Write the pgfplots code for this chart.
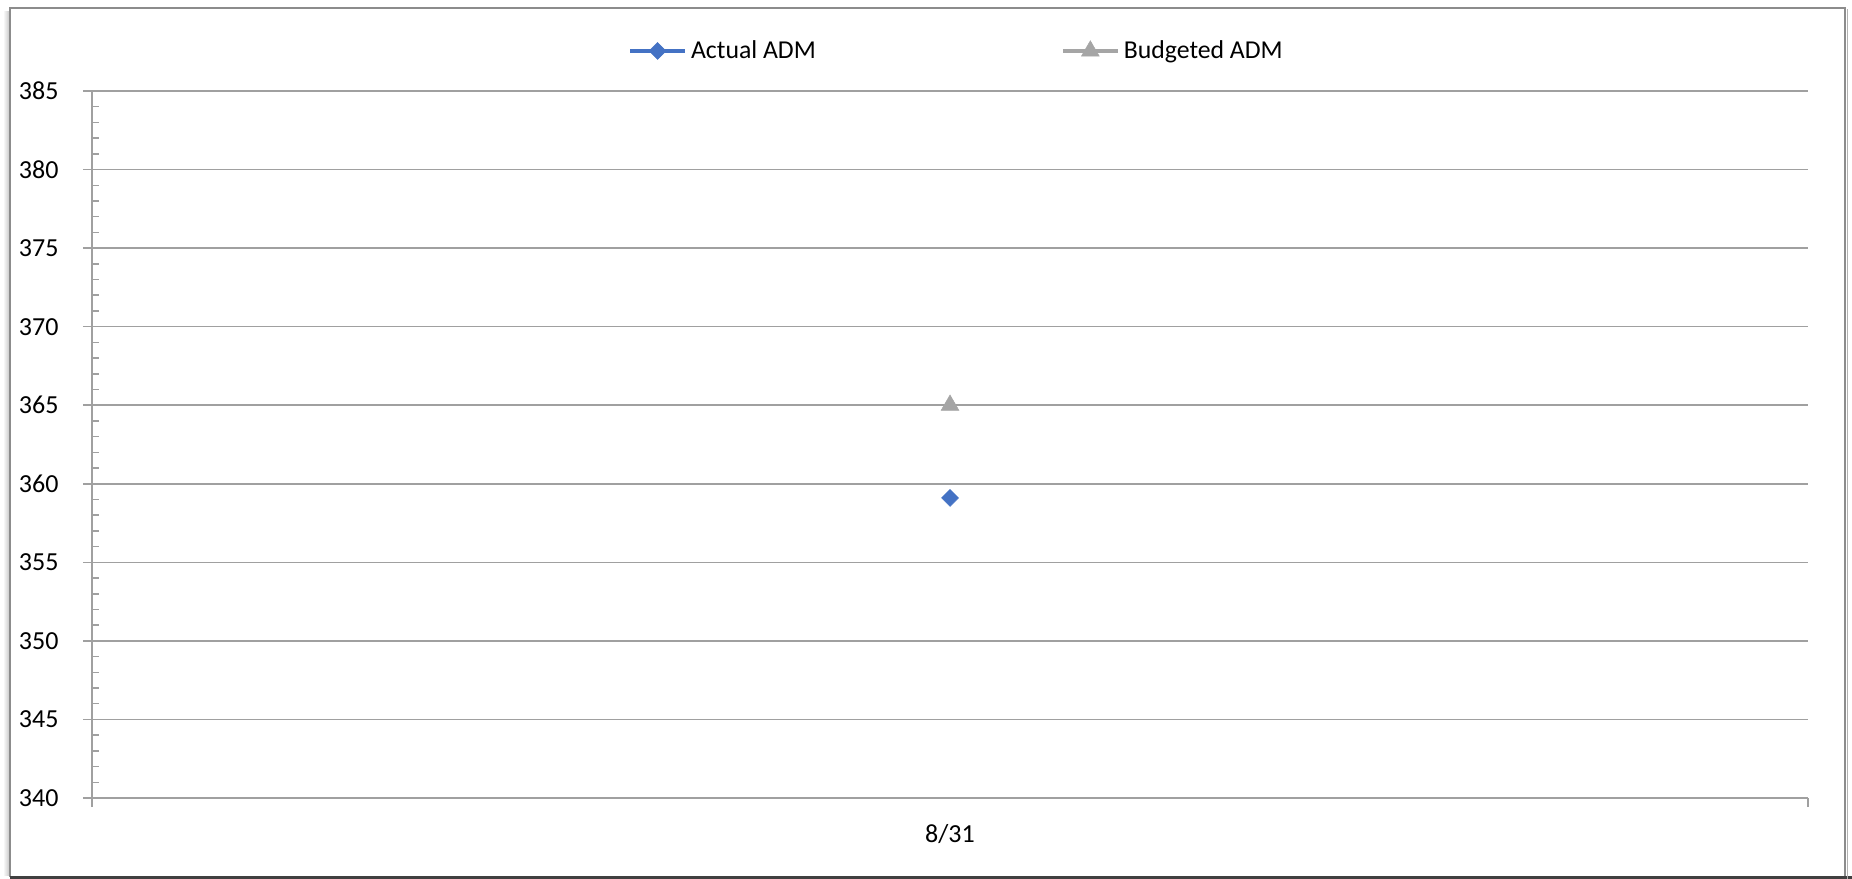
\documentclass[border=0pt]{standalone}
\usepackage{fontspec}
\setmainfont{Carlito}
\usepackage{pgfplots}
\pgfplotsset{compat=1.18}

\definecolor{actual}{HTML}{4472C4}
\definecolor{budget}{HTML}{A5A5A5}
\definecolor{gridc}{HTML}{A0A0A0}
\definecolor{framec}{HTML}{8C8C8C}

\begin{document}
\begin{tikzpicture}
% page extent
\path[use as bounding box] (0,0) rectangle (740.8bp,351.6bp);

% chart frame with a soft shadow on the left
\shade[left color=white, right color=gray!45] (1.2bp,1.2bp) rectangle (3.8bp,346.8bp);
\draw[framec, line width=0.7bp] (4bp,1bp) -- (4bp,348.4bp) -- (738bp,348.4bp) -- (738bp,1bp);
\draw[black!75, line width=0.9bp] (4bp,0.6bp) -- (740.8bp,0.6bp);
\draw[gray!60, line width=0.6bp] (739bp,0bp) -- (739bp,348bp);

\begin{axis}[
  at={(36.8bp,32.4bp)}, anchor=south west,
  scale only axis,
  width=686.4bp, height=282.8bp,
  xmin=-0.5, xmax=0.5,
  ymin=340, ymax=385,
  ytick={340,345,...,385},
  minor y tick num=4,
  xtick={-0.5,0.5},
  xticklabels={{},{}},
  extra x ticks={0},
  extra x tick labels={8/31},
  extra x tick style={major tick length=0pt, grid=none},
  axis lines*=left,
  axis line style={gridc, line width=0.6bp},
  ymajorgrids,
  grid style={gridc, line width=0.6bp},
  tick align=outside,
  major tick length=3.6bp,
  minor tick length=2.6bp,
  tick style={gridc, line width=0.6bp},
  minor y tick style={xshift=2.6bp},
  /pgf/number format/assume math mode=true,
  ticklabel style={font=\fontsize{10.4bp}{12bp}\selectfont, text=black},
  yticklabel style={anchor=east, inner sep=0pt, xshift=-9.6bp},
  xticklabel style={anchor=north, inner sep=0pt, yshift=-10.3bp},
  clip=false,
  legend columns=2,
  legend style={
    draw=none, fill=none, inner sep=0pt, outer sep=0pt,
    anchor=west, at={(axis description cs:0.3124,1.0566)},
    font=\fontsize{10.3bp}{12bp}\selectfont,
    nodes={inner sep=0pt, outer sep=0pt},
    /tikz/every odd column/.append style={column sep=1.6bp},
    /tikz/every even column/.append style={column sep=98bp},
  },
  legend image code/.code={
    \draw[mark repeat=2, mark phase=2, #1]
      plot coordinates {(0bp,0bp) (11bp,0bp) (22bp,0bp)};
  },
]
\addplot[actual, line width=1.6bp, mark=square*,
  mark options={solid, rotate=45, fill=actual, draw=actual, line width=0.2bp}, mark size=2.4bp]
  coordinates {(0,359.1)};
\addlegendentry{Actual ADM}
\addplot[budget, line width=1.6bp, mark=triangle*,
  mark options={solid, fill=budget, draw=budget, line width=0.2bp}, mark size=4.1bp]
  coordinates {(0,365)};
\addlegendentry{Budgeted ADM}
\end{axis}
\end{tikzpicture}
\end{document}
